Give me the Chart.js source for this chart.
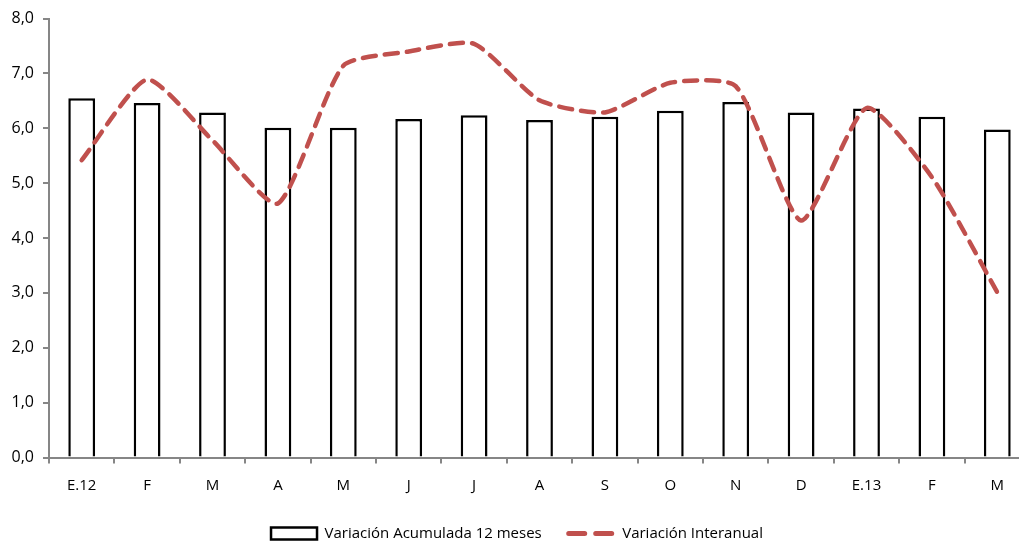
<!DOCTYPE html>
<html>
<head>
<meta charset="utf-8">
<script src="https://cdn.jsdelivr.net/npm/chart.js@4/dist/chart.umd.min.js"></script>
<style>
html,body{margin:0;padding:0;background:#fff;overflow:hidden;}
#wrap{position:relative;width:1031px;height:551px;}
</style>
</head>
<body>
<div id="wrap"><canvas id="c"></canvas></div>
<script>
const categories = ['E.12','F','M','A','M','J','J','A','S','O','N','D','E.13','F','M'];
const acumulada12 = [6.55,6.46,6.29,6.01,6.01,6.17,6.24,6.15,6.21,6.32,6.48,6.29,6.36,6.21,5.98];
const interanual = [5.42,6.89,5.78,4.63,7.14,7.40,7.54,6.51,6.29,6.83,6.77,4.32,6.37,5.11,3.01];
const yTicks = [0,1,2,3,4,5,6,7,8];
const seriesNames = ['Variación Acumulada 12 meses','Variación Interanual'];

const FAMILY = "'Open Sans', 'Noto Sans', sans-serif";
const AXIS = '#868686';
const RED = '#C0504D';

Chart.defaults.font = {family:FAMILY, size:14};
Chart.defaults.color = '#000';

// nudge the legend block to match the original's horizontal placement
const legendShift = {
  id:'legendShift',
  afterLayout(chart){
    if (chart.legend){ chart.legend.left += 2; chart.legend.right += 2; }
  }
};

new Chart(document.getElementById('c'), {
  plugins:[legendShift],
  data: {
    labels: categories,
    datasets: [
      {
        type:'bar', label:seriesNames[0], data:acumulada12,
        backgroundColor:'#fff', borderColor:'#000', borderWidth:2.5,
        categoryPercentage:1, barPercentage:0.41, order:2
      },
      {
        type:'line', label:seriesNames[1], data:interanual,
        borderColor:RED, backgroundColor:RED, borderWidth:4.5,
        borderDash:[13,9], borderCapStyle:'round', tension:0.2,
        pointRadius:0, fill:false, order:1
      }
    ]
  },
  options: {
    responsive:true, maintainAspectRatio:false, animation:false,
    layout:{padding:{top:10,right:1,left:0,bottom:0}},
    plugins:{
      tooltip:{enabled:false},
      legend:{
        position:'bottom',
        labels:{
          usePointStyle:true, pointStyleWidth:46, boxHeight:12,
          padding:27, font:{family:FAMILY, size:15},
          generateLabels:(chart)=>[
            {text:seriesNames[0], pointStyle:'rect', fillStyle:'#fff', strokeStyle:'#000', lineWidth:2.5, datasetIndex:0},
            {text:seriesNames[1], pointStyle:'line', fillStyle:RED, strokeStyle:RED, lineWidth:5, lineDash:[16,11], lineCap:'round', datasetIndex:1}
          ]
        }
      }
    },
    scales:{
      x:{
        offset:true,
        grid:{offset:true, drawOnChartArea:false, drawTicks:true, tickLength:6, color:AXIS, lineWidth:2},
        border:{color:AXIS, width:2},
        ticks:{padding:13, font:{family:FAMILY,size:15}, maxRotation:0, autoSkip:false},
        afterFit:(s)=>{ s.height = 41.5; }
      },
      y:{
        min:0, max:8,
        afterBuildTicks:(s)=>{ s.ticks = yTicks.map(v=>({value:v})); },
        grid:{drawOnChartArea:false, drawTicks:true, tickLength:6, color:AXIS, lineWidth:2},
        border:{color:AXIS, width:2},
        ticks:{padding:9, font:{family:FAMILY,size:16}, callback:(v)=>v.toFixed(1).replace('.',',')},
        afterFit:(s)=>{ s.width = 49; }
      }
    }
  }
});
</script>
</body>
</html>
